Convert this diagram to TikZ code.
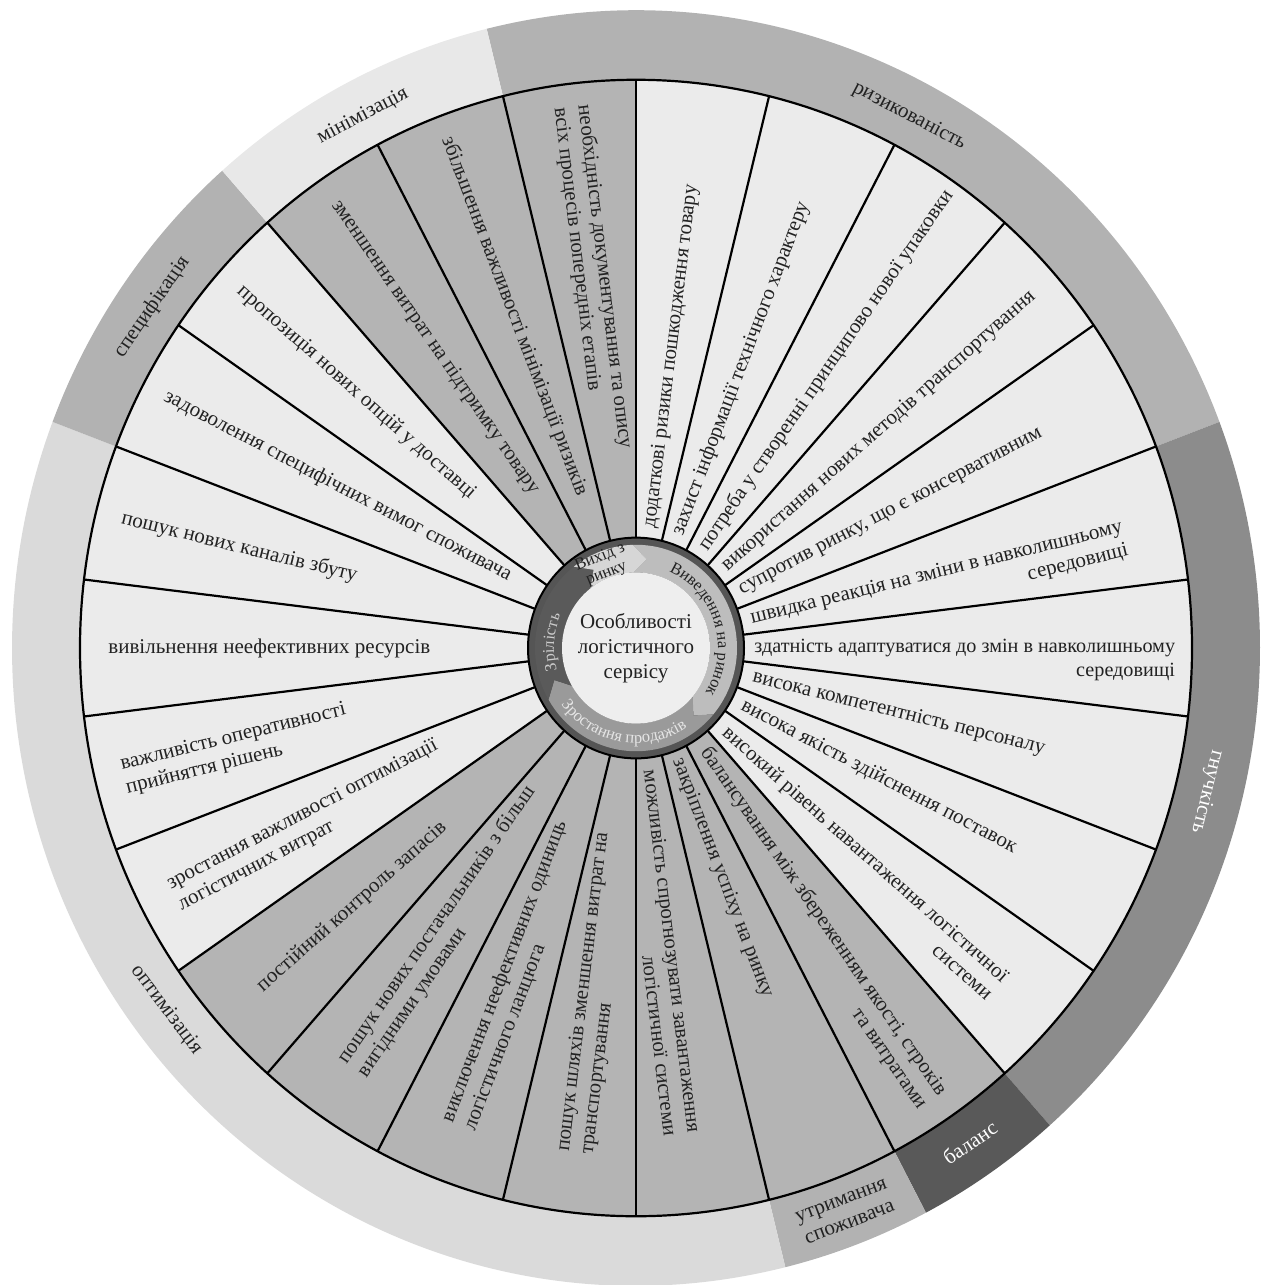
\documentclass[tikz,border=0pt]{standalone}
\usepackage{fontspec}
\setmainfont{Liberation Serif}
\usetikzlibrary{decorations.text}

\definecolor{sectlight}{HTML}{EBEBEB}
\definecolor{sectgray}{HTML}{B4B4B4}
\definecolor{ringrisk}{HTML}{B2B2B2}
\definecolor{ringflex}{HTML}{8C8C8C}
\definecolor{ringbal}{HTML}{595959}
\definecolor{ringkeep}{HTML}{B2B2B2}
\definecolor{ringopt}{HTML}{DADADA}
\definecolor{ringspec}{HTML}{B2B2B2}
\definecolor{ringmin}{HTML}{E8E8E8}
\definecolor{stageintro}{HTML}{BDBDBD}
\definecolor{stagegrow}{HTML}{9A9A9A}
\definecolor{stagemat}{HTML}{5A5A5A}
\definecolor{stageexit}{HTML}{D6D6D6}
\definecolor{hubdark}{HTML}{555555}
\definecolor{hubcore}{HTML}{EEEEEE}
\definecolor{inkdark}{HTML}{222222}

\newcommand\lblfont{\rmfamily\fontsize{10.5}{12}\selectfont}
\newcommand\stagefont{\rmfamily\fontsize{8.3}{8.6}\selectfont}

\tikzset{
  lbl/.style={font=\lblfont, inner sep=0pt, text=inkdark},
  lblout/.style={lbl, anchor=west, align=right},
  lblin/.style={lbl, anchor=west, align=left},
  firstline/.style={yshift=-6pt},
  ringlbl/.style={lbl, align=center},
  sectline/.style={line width=1.1pt},
}

% arrow band of the life cycle: start angle, end angle, colour
\newcommand{\stageband}[3]{%
  \fill[#3] (#1:101) arc[start angle=#1, end angle=#2, radius=101]
    -- ({#2-9}:87.5) -- (#2:74) arc[start angle=#2, end angle=#1, radius=74]
    -- ({#1-9}:87.5) -- cycle;}

\begin{document}
\begin{tikzpicture}[x=0.5pt, y=0.5pt]
\useasboundingbox (0,0) rectangle (1270,-1285);
\begin{scope}[shift={(636,-648)}, yscale=1.022]
\def\rim{556}
\def\rout{624}
\def\rhub{108}
\def\st{13.8462}

% outer ring
\foreach \a/\b/\c in {103.846/20.769/ringrisk, 20.769/-48.462/ringflex,
    -48.462/-62.308/ringbal, -62.308/-76.154/ringkeep, -76.154/-200.769/ringopt,
    -200.769/-228.462/ringspec, -228.462/-256.154/ringmin}
  \fill[\c] (0,0) -- (\a:\rout) arc[start angle=\a, end angle=\b, radius=\rout] -- cycle;

% sectors
\fill[sectlight] (0,0) circle[radius=\rim];
\foreach \i in {11,...,17,24,25,26}{
  \pgfmathsetmacro\a{90-(\i-1)*\st}
  \pgfmathsetmacro\b{\a-\st}
  \fill[sectgray] (0,0) -- (\a:\rim) arc[start angle=\a, end angle=\b, radius=\rim] -- cycle;
}
\foreach \i in {0,...,25}{
  \pgfmathsetmacro\a{90-\i*\st}
  \draw[sectline] (\a:\rhub) -- (\a:\rim);
}
\draw[sectline] (0,0) circle[radius=\rim];

% hub
\filldraw[fill=hubdark, draw=black, line width=1pt] (0,0) circle[radius=\rhub];
\stageband{92}{-40}{stageintro}
\stageband{-40}{-150}{stagegrow}
\stageband{-150}{-232}{stagemat}
\stageband{-232}{-268}{stageexit}
\fill[hubcore] (0,0) circle[radius=74];

\path[decorate, decoration={text along path, text align=center, text color=inkdark,
    text={|\stagefont|Виведення на ринок}}]
  (74:82) arc[start angle=74, end angle=-40, radius=82];
\path[decorate, decoration={text along path, text align=center, text color=white!90!black,
    text={|\stagefont|Зростання продажів}}]
  (-152:93) arc[start angle=-152, end angle=-48, radius=93];
\path[decorate, decoration={text along path, text align=center, text color=white!80!black,
    text={|\stagefont|Зрілість}}]
  (205:82) arc[start angle=205, end angle=147, radius=82];
\node[lbl, font=\stagefont, align=center, rotate=22] (exit) at (112:87) {Вихід з\\ринку};

\node[lbl, align=center, font=\rmfamily\fontsize{10.5}{12.5}\selectfont] (centre) at (0,0)
  {Особливості\\логістичного\\сервісу};

% right half
\node[lblout, rotate=83.077] (s1) at (83.077:118) {додаткові ризики пошкодження товару};
\node[lblout, rotate=69.231] (s2) at (69.231:118) {захист інформації технічного характеру};
\node[lblout, rotate=55.385] (s3) at (55.385:118) {потреба у створенні принципово нової упаковки};
\node[lblout, rotate=41.538] (s4) at (41.538:118) {використання нових методів транспортування};
\node[lblout, rotate=27.692] (s5) at (27.692:118) {супротив ринку, що є консервативним};
\node[lblout, rotate=13.846, firstline] (s6) at (13.846:118) {швидка реакція на зміни в навколишньому\\середовищі};
\node[lblout, rotate=0, firstline, font=\rmfamily\fontsize{10.1}{12}\selectfont] (s7) at (0:118) {здатність адаптуватися до змін в навколишньому\\середовищі};
\node[lblout, rotate=-13.846] (s8) at (-13.846:120) {висока компетентність персоналу};
\node[lblout, rotate=-27.692] (s9) at (-27.692:120) {висока якість здійснення поставок};
\node[lblout, rotate=-41.538, firstline] (s10) at (-41.538:120) {високий рівень навантаження логістичної\\системи};
\node[lblout, rotate=-55.385, firstline] (s11) at (-55.385:120) {балансування між збереженням якості, строків\\та витратами};
\node[lblout, rotate=-69.231] (s12) at (-69.231:116) {закріплення успіху на ринку};
\node[lblout, rotate=-83.077, firstline] (s13) at (-83.077:120) {можливість спрогнозувати завантаження\\логістичної системи};

% left half
\node[lblin, rotate=83.077] (s14) at (-96.923:498) {пошук шляхів зменшення витрат на\\транспортування};
\node[lblin, rotate=69.231] (s15) at (-110.769:500) {виключення неефективних одиниць\\логістичного ланцюга};
\node[lblin, rotate=55.385] (s16) at (-124.615:500) {пошук нових постачальників з більш\\вигідними умовами};
\node[lblin, rotate=41.538] (s17) at (-138.462:503) {постійний контроль запасів};
\node[lblin, rotate=27.692] (s18) at (-152.308:522) {зростання важливості оптимізації\\логістичних витрат};
\node[lblin, rotate=13.846] (s19) at (-166.154:528) {важливість оперативності\\прийняття рішень};
\node[lblin, rotate=0] (s20) at (-180:528) {вивільнення неефективних ресурсів};
\node[lblin, rotate=-13.846] (s21) at (-193.846:530) {пошук нових каналів збуту};
\node[lblin, rotate=-27.692] (s22) at (-207.692:532) {задоволення специфічних вимог споживача};
\node[lblin, rotate=-41.538] (s23) at (-221.538:530) {пропозиція нових опцій у доставці};
\node[lblin, rotate=-55.385] (s24) at (-235.385:530) {зменшення витрат на підтримку товару};
\node[lblin, rotate=-69.231] (s25) at (-249.231:534) {збільшення важливості мінімізації ризиків};
\node[lblin, rotate=-83.077] (s26) at (-263.077:534) {необхідність документування та опису\\всіх процесів попередніх етапів};

% ring labels
\node[ringlbl, rotate=-27.7] (risk) at (62.3:588) {ризикованість};
\node[ringlbl, rotate=-103.85, text=white] (flex) at (-13.85:588) {гнучкість};
\node[ringlbl, rotate=34.6, text=white] (bal) at (-55.4:588) {баланс};
\node[ringlbl, rotate=20.8] (keep) at (-69.2:590) {утримання\\споживача};
\node[ringlbl, rotate=-53] (opt) at (-143:588) {оптимізація};
\node[ringlbl, rotate=55.4] (spec) at (145.4:588) {специфікація};
\node[ringlbl, rotate=27.7] (mini) at (117.7:588) {мінімізація};
\end{scope}
\end{tikzpicture}
\end{document}
